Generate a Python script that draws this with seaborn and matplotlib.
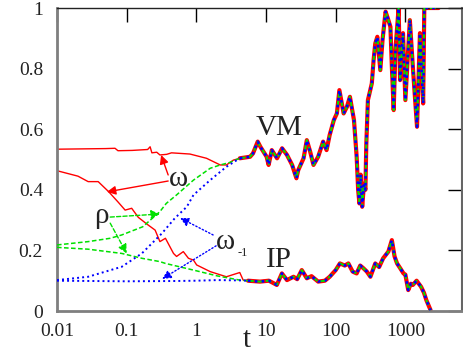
import matplotlib
matplotlib.use("Agg")
import matplotlib.pyplot as plt
import seaborn as sns
import pandas as pd
import numpy as np
from matplotlib.ticker import NullLocator, FixedLocator, FixedFormatter

# ---------------- data ----------------
# omega (red, solid) - early branches
omega_hi_t = [0.01, 0.05, 0.068, 0.075, 0.12, 0.2, 0.217, 0.23, 0.27, 0.30, 0.375, 0.44, 0.81, 1.4, 2.2, 2.7, 3.4]
omega_hi = [0.534, 0.536, 0.537, 0.529, 0.53, 0.533, 0.542, 0.522, 0.524, 0.515, 0.517, 0.522, 0.518, 0.504, 0.482, 0.482, 0.498]
omega_lo_t = [0.01, 0.02, 0.028, 0.039, 0.055, 0.075, 0.095, 0.118, 0.147, 0.165, 0.2, 0.256, 0.30, 0.36,
              0.47, 0.52, 0.65, 0.77, 0.91, 1.01, 1.58, 2.7, 4.2, 4.7]
omega_lo = [0.463, 0.445, 0.427, 0.427, 0.394, 0.36, 0.333, 0.339, 0.309, 0.30, 0.285, 0.267, 0.229, 0.24,
            0.19, 0.18, 0.196, 0.174, 0.168, 0.152, 0.13, 0.113, 0.127, 0.102]
# rho (green, dashed)
rho_hi_t = [0.01, 0.028, 0.058, 0.085, 0.17, 0.30, 0.37, 0.52, 0.91, 1.58, 2.2, 3.0]
rho_hi = [0.218, 0.229, 0.24, 0.251, 0.278, 0.328, 0.355, 0.383, 0.432, 0.471, 0.482, 0.49]
rho_lo_t = [0.01, 0.028, 0.085, 0.165, 0.3, 0.36, 0.91, 1.98, 4.2]
rho_lo = [0.21, 0.204, 0.19, 0.174, 0.163, 0.157, 0.135, 0.116, 0.102]
# omega_-1 (blue, dotted)
w1_hi_t = [0.01, 0.028, 0.085, 0.165, 0.32, 0.49, 0.73, 0.91, 1.58, 2.7]
w1_hi = [0.102, 0.113, 0.146, 0.19, 0.256, 0.306, 0.344, 0.383, 0.432, 0.476]
w1_lo_t = [0.01, 0.1, 0.5, 1.0, 2.0, 4.2]
w1_lo = [0.1, 0.098, 0.099, 0.1, 0.102, 0.101]

# shared late trajectories
vm_t = [4.2, 5.9, 6.5, 7.6, 8.3, 10.2, 10.9, 12.1, 14.4, 17, 20, 23.7, 27.3, 29, 34.6, 38.5, 43, 48, 56, 66,
        74, 82, 94, 104, 113, 130, 145, 160, 183, 200, 210, 219, 228, 240, 255, 267, 275, 290, 330, 350, 370,
        396, 437, 470, 520, 560, 610, 640, 680, 720, 800, 840, 925, 1000, 1160, 1280, 1470, 1620, 1800, 1870, 3000]
vm = [0.504, 0.509, 0.52, 0.559, 0.542, 0.509, 0.482, 0.531, 0.504, 0.537, 0.515, 0.482, 0.438, 0.465, 0.504,
      0.564, 0.526, 0.482, 0.509, 0.559, 0.531, 0.581, 0.63, 0.652, 0.729, 0.652, 0.674, 0.707, 0.63, 0.509,
      0.40, 0.355, 0.45, 0.344, 0.42, 0.40, 0.55, 0.696, 0.751, 0.828, 0.883, 0.905, 0.795, 0.894, 0.988,
      0.966, 0.938, 0.806, 0.663, 0.861, 1.0, 0.762, 0.917, 0.696, 0.96, 0.806, 0.608, 0.917, 0.685, 1.0, 1.0]
ip_t = [5.5, 8.2, 11, 14.3, 16.9, 20, 24.8, 28, 32.6, 38.5, 45, 56, 70, 82, 100, 115, 135, 152, 175, 200,
        225, 250, 280, 315, 370, 420, 480, 570, 640, 700, 760, 850, 940, 1000, 1100, 1200, 1280, 1450, 1680,
        1850, 2000, 2300]
ip = [0.1, 0.097, 0.1, 0.086, 0.124, 0.102, 0.113, 0.105, 0.135, 0.108, 0.115, 0.097, 0.1, 0.113, 0.135,
      0.157, 0.15, 0.157, 0.13, 0.124, 0.15, 0.141, 0.13, 0.113, 0.157, 0.145, 0.174, 0.196, 0.234, 0.18,
      0.157, 0.14, 0.124, 0.12, 0.069, 0.09, 0.086, 0.1, 0.08, 0.06, 0.036, 0.003]

x_ticks = [0.01, 0.1, 1, 10, 100, 1000]
x_labels = ["0.01", "0.1", "1", "10", "100", "1000"]
y_ticks = [0, 0.2, 0.4, 0.6, 0.8, 1]
y_labels = ["0", "0.2", "0.4", "0.6", "0.8", "1"]

# ---------------- figure ----------------
sns.set_theme(style="white")
plt.rcParams["font.family"] = ["Liberation Serif", "DejaVu Serif"]

fig = plt.figure(figsize=(4.64, 3.58), dpi=100)
ax = fig.add_axes([57 / 464, 1 - 311 / 358, (462 - 57) / 464, (311 - 8) / 358])

RED, GREEN, BLUE = "#ff0000", "#00e000", "#0000ff"
styles = {
    "omega": dict(color=RED, linestyle="-", lw=1.0, z=2),
    "rho": dict(color=GREEN, linestyle=(0, (3, 1.6)), lw=1.1, z=3),
    "w1": dict(color=BLUE, linestyle=(0, (1, 1.6)), lw=1.4, z=4),
}

early = {
    ("omega", "hi"): (omega_hi_t, omega_hi),
    ("omega", "lo"): (omega_lo_t, omega_lo),
    ("rho", "hi"): (rho_hi_t, rho_hi),
    ("rho", "lo"): (rho_lo_t, rho_lo),
    ("w1", "hi"): (w1_hi_t, w1_hi),
    ("w1", "lo"): (w1_lo_t, w1_lo),
}
for (name, branch), (tt, vv) in early.items():
    st = styles[name]
    if branch == "hi":
        tt = list(tt) + [vm_t[0]]
        vv = list(vv) + [vm[0]]
    else:
        tt = list(tt) + [ip_t[0]]
        vv = list(vv) + [ip[0]]
    d = pd.DataFrame({"t": tt, "v": vv})
    sns.lineplot(data=d, x="t", y="v", ax=ax, estimator=None, sort=False,
                 color=st["color"], linestyle=st["linestyle"], lw=st["lw"], zorder=st["z"])

late_lw = {"omega": 3.0, "rho": 1.4, "w1": 1.9}
for name in ["omega", "rho", "w1"]:
    st = styles[name]
    for tt, vv in [(vm_t, vm), (ip_t, ip)]:
        d = pd.DataFrame({"t": tt, "v": vv})
        sns.lineplot(data=d, x="t", y="v", ax=ax, estimator=None, sort=False,
                     color=st["color"], linestyle=st["linestyle"], lw=late_lw[name], zorder=st["z"])

ax.set_xscale("log")
ax.set_xlim(0.01, 6500)
ax.set_ylim(0, 1)
ax.xaxis.set_major_locator(FixedLocator(x_ticks))
ax.xaxis.set_major_formatter(FixedFormatter(x_labels))
ax.xaxis.set_minor_locator(NullLocator())
ax.yaxis.set_major_locator(FixedLocator(y_ticks))
ax.yaxis.set_major_formatter(FixedFormatter(y_labels))
ax.set_xlabel("")
ax.set_ylabel("")
ax.tick_params(axis="both", which="major", direction="in", length=10, width=1, color="black",
               top=True, right=True, labelsize=14, labelcolor="#222222")
ax.tick_params(axis="y", pad=10)
ax.tick_params(axis="x", pad=9)
for s in ["left", "bottom"]:
    ax.spines[s].set_color("#7f7f7f")
    ax.spines[s].set_linewidth(2.0)
ax.spines["top"].set_color("#222222")
ax.spines["top"].set_linewidth(1.0)
ax.spines["right"].set_color("#666666")
ax.spines["right"].set_linewidth(1.5)

# labels
tkw = dict(fontsize=21, color="#222222", ha="center", va="center", zorder=6)
ax.text(15.5, 0.604, "VM", **tkw)
ax.text(15.2, 0.168, "IP", **tkw)
ax.text(0.55, 0.436, "ω", **tkw)
ax.text(0.044, 0.312, "ρ", **tkw)
ax.text(2.6, 0.228, "ω", **tkw)
ax.text(4.6, 0.19, "-1", fontsize=9, color="#222222", ha="center", va="center", zorder=6)
fig.text(247 / 464, 1 - 340 / 358, "t", fontsize=21, color="#222222", ha="center", va="center")

# arrows
def arrow(tail, head, color, ls):
    ax.annotate("", xy=head, xytext=tail,
                arrowprops=dict(arrowstyle="-|>", color=color, lw=1.0, linestyle=ls,
                                mutation_scale=13, shrinkA=0, shrinkB=0), zorder=7)

arrow((0.394, 0.449), (0.312, 0.515), RED, "-")
arrow((0.394, 0.429), (0.052, 0.393), RED, "-")
arrow((0.058, 0.31), (0.30, 0.32), GREEN, (0, (3, 1.6)))
arrow((0.058, 0.29), (0.10, 0.19), GREEN, (0, (3, 1.6)))
arrow((1.74, 0.251), (0.585, 0.307), BLUE, (0, (1, 1.6)))
arrow((1.92, 0.215), (0.323, 0.106), BLUE, (0, (1, 1.6)))

fig.savefig("out.png", dpi=100)
